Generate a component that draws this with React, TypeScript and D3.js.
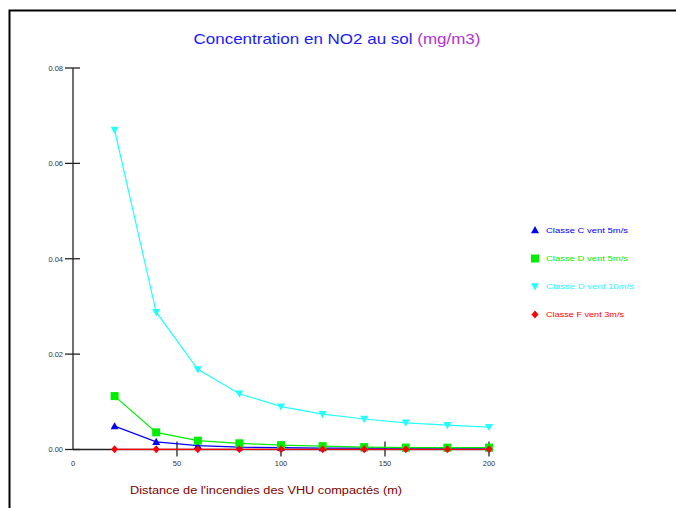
import React from "react";
import * as d3 from "d3";

const distances = [20, 40, 60, 80, 100, 120, 140, 160, 180, 200];
const classeC5 = [0.0049, 0.0016, 0.0008, 0.0005, 0.0004, 0.0003, 0.0003, 0.0003, 0.0003, 0.0003];
const classeD5 = [0.0112, 0.0036, 0.00185, 0.0013, 0.0009, 0.0007, 0.0005, 0.0004, 0.0004, 0.0004];
const classeD10 = [0.067, 0.0288, 0.0168, 0.0117, 0.009, 0.0074, 0.0064, 0.0056, 0.0051, 0.0047];
const classeF3 = [0.00003, 0.00003, 0.00003, 0.00003, 0.00003, 0.00003, 0.00003, 0.00003, 0.00003, 0.00003];
const yTicks = [0, 0.02, 0.04, 0.06, 0.08];
const xTicks = [0, 50, 100, 150, 200];

const series = [
  { name: "Classe C vent 5m/s", values: classeC5, color: "#0000ff", marker: "triUp" },
  { name: "Classe D vent 5m/s", values: classeD5, color: "#00ee00", marker: "square" },
  { name: "Classe D vent 10m/s", values: classeD10, color: "#22ffff", marker: "triDown" },
  { name: "Classe F vent 3m/s", values: classeF3, color: "#ff0000", marker: "diamond" },
];

function Marker({ type, x, y, color }: { type: string; x: number; y: number; color: string }) {
  const s = 4;
  if (type === "triUp") return <path d={`M${x},${y - s}L${x + s},${y + s * 0.8}L${x - s},${y + s * 0.8}Z`} fill={color} />;
  if (type === "triDown") return <path d={`M${x},${y + s}L${x + s},${y - s * 0.8}L${x - s},${y - s * 0.8}Z`} fill={color} />;
  if (type === "square") return <rect x={x - 4} y={y - 4} width={8} height={8} fill={color} />;
  return <path d={`M${x},${y - 4}L${x + 3.5},${y}L${x},${y + 4}L${x - 3.5},${y}Z`} fill={color} />;
}

export default function App() {
  const x = d3.scaleLinear().domain([0, 200]).range([73, 489]);
  const y = d3.scaleLinear().domain([0, 0.08]).range([449.5, 68]);
  const line = d3
    .line<number>()
    .x((_, i) => x(distances[i]))
    .y((d) => y(d));
  const legendY = [230, 258.5, 286.5, 314.5];
  const legendW = [82, 82, 88, 78];
  const drawOrder = [2, 0, 1, 3];
  return (
    <svg width={676} height={508} style={{ position: "absolute", left: 0, top: 0 }} fontFamily="Arial, Liberation Sans, sans-serif">
      <rect x={0} y={0} width={676} height={508} fill="#fff" />
      <path d="M9.5,520V10.5H690" fill="none" stroke="#000" strokeWidth={2} />
      <text x={337} y={44} textAnchor="middle" fontSize={14.5} fill="#1a1aff" textLength={287} lengthAdjust="spacingAndGlyphs">
        Concentration en NO2 au sol <tspan fill="#b030d8">(mg/m3)</tspan>
      </text>
      {/* axes */}
      <line x1={x(0)} x2={x(0)} y1={y(0.08)} y2={y(0)} stroke="#222" strokeWidth={1.3} />
      <line x1={x(0)} x2={x(200)} y1={y(0)} y2={y(0)} stroke="#222" strokeWidth={1.3} />
      {yTicks.map((t) => (
        <g key={t}>
          <line x1={x(0) - 8} x2={x(0) + 7} y1={y(t)} y2={y(t)} stroke="#222" strokeWidth={1.3} />
          <text x={63} y={y(t) + 2.8} textAnchor="end" fontSize={7.5} fill="#333">
            {t.toFixed(2)}
          </text>
        </g>
      ))}
      {xTicks.map((t) => (
        <g key={t}>
          {t > 0 && <line x1={x(t)} x2={x(t)} y1={y(0) - 8} y2={y(0) + 7} stroke="#222" strokeWidth={1.3} />}
          <text x={x(t)} y={466} textAnchor="middle" fontSize={7.5} fill="#333">
            {t}
          </text>
        </g>
      ))}
      {drawOrder.map((si) => {
        const s = series[si];
        return (
          <g key={s.name}>
            <path d={line(s.values) || ""} fill="none" stroke={s.color} strokeWidth={1.2} />
            {s.values.map((v, i) => (
              <Marker key={i} type={s.marker} x={x(distances[i])} y={y(v)} color={s.color} />
            ))}
          </g>
        );
      })}
      {series.map((s, i) => (
        <g key={s.name}>
          <Marker type={s.marker} x={535} y={legendY[i]} color={s.color} />
          <text x={546} y={legendY[i] + 2.8} fontSize={7.5} fill={s.color} textLength={legendW[i]} lengthAdjust="spacingAndGlyphs">
            {s.name}
          </text>
        </g>
      ))}
      <text x={130} y={494} fontSize={10} fill="#800000" textLength={272} lengthAdjust="spacingAndGlyphs">
        Distance de l'incendies des VHU compactés (m)
      </text>
    </svg>
  );
}
